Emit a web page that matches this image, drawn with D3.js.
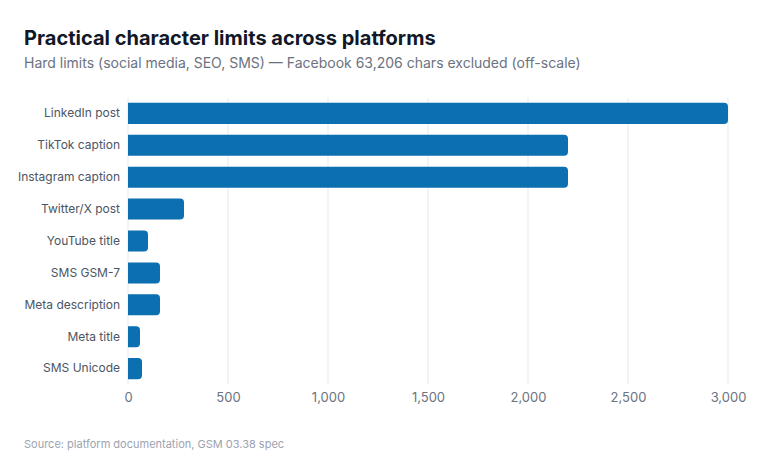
<!DOCTYPE html>
<html>
<head>
<meta charset="utf-8">
<script src="https://cdn.jsdelivr.net/npm/d3@7"></script>
<style>
  body { margin: 0; background: #fff; font-family: Inter, "Noto Sans", sans-serif; }
</style>
</head>
<body>
<div id="chart"></div>
<script>
/* character limits per platform, sorted as in the picture */
const platforms = ["LinkedIn post", "TikTok caption", "Instagram caption", "Twitter/X post",
                   "YouTube title", "SMS GSM-7", "Meta description", "Meta title", "SMS Unicode"];
const limits = [3000, 2200, 2200, 280, 100, 160, 160, 60, 70];
const xTicks = [0, 500, 1000, 1500, 2000, 2500, 3000];

const width = 760,
      height = 460,
      margin = ({ top: 98, right: 32, bottom: 76, left: 128 });

const data = platforms.map((p, i) => ({ name: p, value: limits[i] }));

let svg = d3.select("#chart")
    .append("svg")
    .attr("width", width)
    .attr("height", height)
    .attr("viewBox", [0, 0, width, height]);

const x = d3.scaleLinear()
    .domain([0, 3000])
    .range([margin.left, width - margin.right]);

const y = d3.scaleBand()
    .domain(platforms)
    .range([92, 390])
    .padding(0.34);

/* vertical gridlines */
svg.append("g")
    .selectAll("line")
    .data(xTicks)
    .join("line")
    .attr("x1", d => x(d))
    .attr("x2", d => x(d))
    .attr("y1", margin.top)
    .attr("y2", height - margin.bottom)
    .attr("stroke", "#e5e7eb")
    .attr("stroke-width", 1);

/* bars, square at the baseline, rounded at the end */
const r = 4;
svg.append("g")
    .selectAll("path")
    .data(data)
    .join("path")
    .attr("fill", "#0b6fb0")
    .attr("d", d => {
        const x0 = x(0), x1 = x(d.value), y0 = y(d.name), h = y.bandwidth();
        const rr = Math.min(r, (x1 - x0) / 2);
        return `M${x0},${y0}H${x1 - rr}Q${x1},${y0} ${x1},${y0 + rr}` +
               `V${y0 + h - rr}Q${x1},${y0 + h} ${x1 - rr},${y0 + h}H${x0}Z`;
    });

/* category labels */
svg.append("g")
    .attr("transform", `translate(${margin.left - 8},0)`)
    .call(d3.axisLeft(y).tickSize(0).tickPadding(0))
    .call(g => g.select(".domain").remove())
    .call(g => g.selectAll("text")
        .attr("font-family", "Inter, sans-serif")
        .attr("font-size", 12)
        .attr("fill", "#4b5563"));

/* value axis */
svg.append("g")
    .attr("transform", `translate(0,${height - margin.bottom})`)
    .call(d3.axisBottom(x).tickValues(xTicks).tickFormat(d3.format(",")).tickSize(0).tickPadding(9))
    .call(g => g.select(".domain").remove())
    .call(g => g.selectAll("text")
        .attr("font-family", "Inter, sans-serif")
        .attr("font-size", 13)
        .attr("fill", "#6b7280"));

/* titles */
svg.append("text")
    .attr("x", 24).attr("y", 45)
    .attr("font-family", "Inter, sans-serif")
    .attr("font-size", 20).attr("font-weight", 700)
    .attr("fill", "#111827")
    .text("Practical character limits across platforms");

svg.append("text")
    .attr("x", 24).attr("y", 68)
    .attr("font-family", "Inter, sans-serif")
    .attr("font-size", 14)
    .attr("fill", "#6b7280")
    .text("Hard limits (social media, SEO, SMS) \u2014 Facebook 63,206 chars excluded (off-scale)");

svg.append("text")
    .attr("x", 24).attr("y", 448)
    .attr("font-family", "Inter, sans-serif")
    .attr("font-size", 11)
    .attr("fill", "#9ca3af")
    .text("Source: platform documentation, GSM 03.38 spec");
</script>
</body>
</html>
